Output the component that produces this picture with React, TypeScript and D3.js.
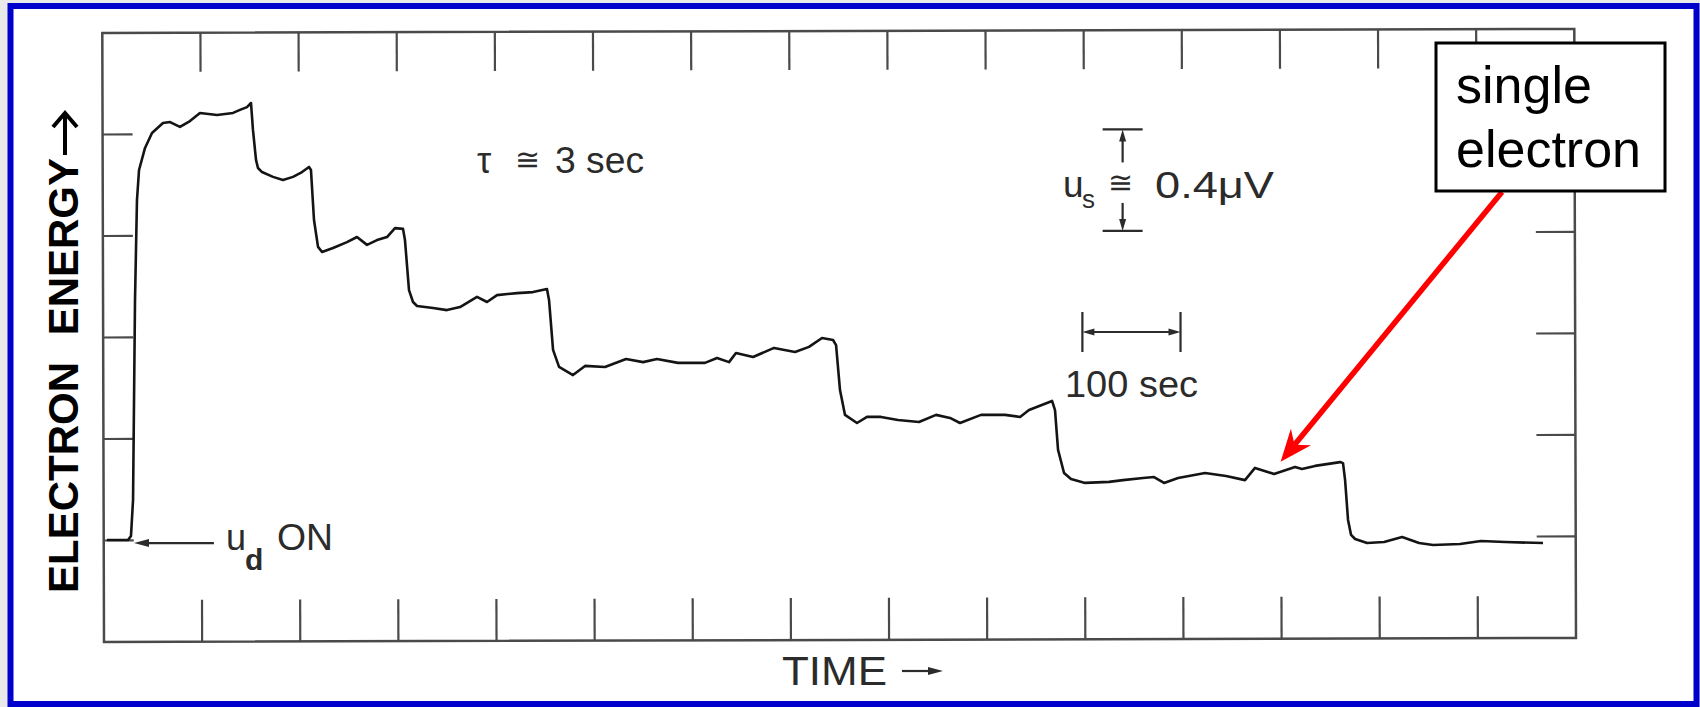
import React from 'react';
import * as d3 from 'd3';

const W = 1700;
const H = 707;

// trace: [time (s), electron energy (µV)]
const tracePoints: [number, number][] = [
  [3, 0.402], [24.5, 0.402], [27.5, 0.418], [29.6, 0.56], [31.6, 1.348], [33.6, 1.742],
  [35.7, 1.86], [41.8, 1.947], [48.9, 2.006], [60.1, 2.045], [67.3, 2.049], [77.4, 2.03],
  [87.6, 2.053], [97.8, 2.085], [115.2, 2.077], [131.5, 2.085], [138.6, 2.097], [145.7, 2.108],
  [149.8, 2.124], [151.8, 2.018], [154.9, 1.9], [156.9, 1.868], [161, 1.852], [172.2, 1.833],
  [182.4, 1.821], [192.6, 1.833], [201.8, 1.852], [208.9, 1.872], [210.9, 1.86], [214, 1.663],
  [218.1, 1.557], [222.2, 1.537], [233.4, 1.553], [247.6, 1.576], [257.8, 1.596], [268, 1.565],
  [278.2, 1.584], [288.4, 1.596], [296.5, 1.631], [304.7, 1.628], [306.7, 1.584], [310.8, 1.387],
  [314.9, 1.34], [319, 1.324], [335.3, 1.316], [349.5, 1.308], [362.8, 1.32], [380.1, 1.36],
  [390.3, 1.34], [400.5, 1.367], [420.9, 1.375], [437.2, 1.379], [451.4, 1.391], [453.5, 1.348],
  [457.6, 1.151], [463.7, 1.084], [477.9, 1.052], [490.2, 1.088], [510.5, 1.084], [532, 1.115],
  [549.3, 1.103], [563.5, 1.115], [584.9, 1.1], [612.4, 1.1], [624.7, 1.119], [636.9, 1.103],
  [644, 1.139], [661.4, 1.123], [682.8, 1.159], [704.2, 1.143], [718.4, 1.163], [731.7, 1.198],
  [742.9, 1.19], [746, 1.17], [750, 0.993], [755.1, 0.895], [767.3, 0.863], [777.5, 0.887],
  [791.8, 0.887], [809.1, 0.875], [830.5, 0.867], [847.9, 0.895], [862.1, 0.883], [872.3, 0.863],
  [893.7, 0.895], [918.2, 0.895], [933.5, 0.887], [942.6, 0.914], [966.1, 0.95], [969.1, 0.914],
  [972.2, 0.757], [978.3, 0.666], [985.4, 0.642], [999.7, 0.627], [1024.2, 0.631], [1038.4, 0.638],
  [1058.8, 0.646], [1070, 0.65], [1080.2, 0.627], [1094.5, 0.646], [1122, 0.666], [1143.4, 0.654],
  [1162.7, 0.638], [1172.9, 0.686], [1192.3, 0.662], [1213.7, 0.69], [1220.8, 0.682], [1234.1, 0.694],
  [1259.6, 0.709], [1262.6, 0.705], [1264.7, 0.638], [1267.7, 0.481], [1270.8, 0.422], [1274.9, 0.406],
  [1287.1, 0.39], [1304.4, 0.394], [1322.8, 0.414], [1340.1, 0.39], [1354.4, 0.382], [1381.8, 0.386],
  [1403.2, 0.398], [1427.7, 0.394], [1466.4, 0.39],
];

const timeTicks = [100, 200, 300, 400, 500, 600, 700, 800, 900, 1000, 1100, 1200, 1300, 1400];
const energyTicks = [0.4, 0.8, 1.2, 1.6, 2.0];

// scale markers drawn in the figure
const timeBar = [997, 1097]; // 100 sec
const energyBar = [1.62, 2.02]; // 0.4 µV
const energyBarTime = 1038;
const udOnArrow = [30.6, 112]; // time span of the "u_d ON" arrow
const udOnEnergy = 0.39;
const singleElectronTip: [number, number] = [1199, 0.71];

const scanInk = '#2b2b2b';
const scanFont = '"Liberation Sans", Arial, sans-serif';

const tri = (tx: number, ty: number, ux: number, uy: number, len: number, half: number) => {
  const bx = tx - ux * len;
  const by = ty - uy * len;
  return `M${tx},${ty}L${bx - uy * half},${by + ux * half}L${bx + uy * half},${by - ux * half}Z`;
};

const App = () => {
  const x = d3.scaleLinear().domain([0, 1500]).range([104, 1576]);
  const y = d3.scaleLinear().domain([0, 2.4]).range([642, 33]);

  const line = d3
    .line<[number, number]>()
    .x((d) => x(d[0]))
    .y((d) => y(d[1]));

  const [x0, x1] = x.range();
  const [yb, yt] = y.range();

  // red arrow from the label box to the trace
  const tail = [1502, 192];
  const tip = [x(singleElectronTip[0]), y(singleElectronTip[1])];
  const dx = tip[0] - tail[0];
  const dy = tip[1] - tail[1];
  const dl = Math.hypot(dx, dy);
  const ux = dx / dl;
  const uy = dy / dl;
  const headLen = 32;
  const headHalf = 13;
  const bx = tip[0] - ux * headLen;
  const by = tip[1] - uy * headLen;
  const notch = [tip[0] - ux * 22, tip[1] - uy * 22];
  const redHead = `M${tip[0]},${tip[1]}L${bx - uy * headHalf},${by + ux * headHalf}L${notch[0]},${notch[1]}L${bx + uy * headHalf},${by - ux * headHalf}Z`;

  const ebx = x(energyBarTime);
  const ebTop = y(energyBar[1]);
  const ebBot = y(energyBar[0]);
  const tbL = x(timeBar[0]);
  const tbR = x(timeBar[1]);
  const tbY = 332;

  return (
    <svg width={W} height={H} style={{ position: 'absolute', left: 0, top: 0, display: 'block' }}>
      <rect x={0} y={0} width={W} height={H} fill="#e9e9e9" />
      <rect x={10.5} y={6} width={1686} height={698} fill="#ffffff" stroke="#0000cc" strokeWidth={6} />

      {/* frame of the scanned plot, slightly tilted like the scan */}
      <g transform={`rotate(-0.16 ${x0} ${yb})`} stroke="#4a4a4a" fill="none">
        <rect x={x0} y={yt} width={x1 - x0} height={yb - yt} strokeWidth={2.5} />
        {timeTicks.map((t) => (
          <g key={`t${t}`} strokeWidth={2.2}>
            <line x1={x(t)} x2={x(t)} y1={yt} y2={yt + 39} />
            <line x1={x(t)} x2={x(t)} y1={yb} y2={yb - 42} />
          </g>
        ))}
        {energyTicks.map((e) => (
          <g key={`e${e}`} strokeWidth={2.2}>
            <line x1={x0} x2={x0 + 30} y1={y(e)} y2={y(e)} />
            <line x1={x1} x2={x1 - 39} y1={y(e)} y2={y(e)} />
          </g>
        ))}
      </g>

      <path d={line(tracePoints) || ''} fill="none" stroke="#141414" strokeWidth={2.6} strokeLinejoin="round" />

      {/* u_d ON */}
      <line x1={x(udOnArrow[0]) + 10} x2={x(udOnArrow[1])} y1={y(udOnEnergy)} y2={y(udOnEnergy)} stroke={scanInk} strokeWidth={2.2} />
      <path d={tri(x(udOnArrow[0]), y(udOnEnergy), -1, 0, 15, 4)} fill={scanInk} />
      <text x={226} y={550} fontFamily={scanFont} fontSize={36} fill={scanInk}>u</text>
      <text x={245} y={570} fontFamily={scanFont} fontSize={30} fontWeight="bold" fill={scanInk}>d</text>
      <text x={277} y={550} fontFamily={scanFont} fontSize={37} fill={scanInk} textLength={56} lengthAdjust="spacingAndGlyphs">ON</text>

      {/* tau */}
      <text x={477} y={173} fontFamily={scanFont} fontSize={36} fill={scanInk}>τ</text>
      <text x={515} y={170} fontFamily={scanFont} fontSize={30} fill={scanInk}>≅</text>
      <text x={555} y={173} fontFamily={scanFont} fontSize={37} fill={scanInk} textLength={89} lengthAdjust="spacingAndGlyphs">3 sec</text>

      {/* 0.4 µV marker */}
      <g stroke={scanInk} strokeWidth={2.2}>
        <line x1={ebx - 20} x2={ebx + 20} y1={ebTop} y2={ebTop} />
        <line x1={ebx} x2={ebx} y1={ebTop + 8} y2={ebTop + 33} />
        <line x1={ebx} x2={ebx} y1={ebBot - 28} y2={ebBot - 8} />
        <line x1={ebx - 20} x2={ebx + 20} y1={ebBot} y2={ebBot} />
      </g>
      <path d={tri(ebx, ebTop, 0, -1, 12, 3.5)} fill={scanInk} />
      <path d={tri(ebx, ebBot, 0, 1, 12, 3.5)} fill={scanInk} />
      <text x={1063} y={197} fontFamily={scanFont} fontSize={37} fill={scanInk}>u</text>
      <text x={1082} y={208} fontFamily={scanFont} fontSize={26} fill={scanInk}>s</text>
      <text x={1108} y={193} fontFamily={scanFont} fontSize={30} fill={scanInk}>≅</text>
      <text x={1155} y={198} fontFamily={scanFont} fontSize={37} fill={scanInk} textLength={119} lengthAdjust="spacingAndGlyphs">0.4μV</text>

      {/* 100 sec marker */}
      <g stroke={scanInk} strokeWidth={2.2}>
        <line x1={tbL} x2={tbL} y1={tbY - 20} y2={tbY + 20} />
        <line x1={tbR} x2={tbR} y1={tbY - 20} y2={tbY + 20} />
        <line x1={tbL + 8} x2={tbR - 8} y1={tbY} y2={tbY} />
      </g>
      <path d={tri(tbL, tbY, -1, 0, 12, 3.5)} fill={scanInk} />
      <path d={tri(tbR, tbY, 1, 0, 12, 3.5)} fill={scanInk} />
      <text x={1065} y={397} fontFamily={scanFont} fontSize={37} fill={scanInk} textLength={133} lengthAdjust="spacingAndGlyphs">100 sec</text>

      {/* TIME */}
      <text x={782} y={685} fontFamily={scanFont} fontSize={40} fill={scanInk} textLength={105} lengthAdjust="spacingAndGlyphs">TIME</text>
      <line x1={902} x2={930} y1={671} y2={671} stroke={scanInk} strokeWidth={2.2} />
      <path d={tri(943, 671, 1, 0, 15, 4)} fill={scanInk} />

      {/* y axis title with its arrow */}
      <text transform="translate(78,593) rotate(-90)" fontFamily='"Liberation Sans", Arial, sans-serif' fontSize={42} fontWeight="bold" fill="#000">
        {'ELECTRON '}
        <tspan dx={15}>ENERGY</tspan>
      </text>
      <path d="M65,155V114M53,127L65,113L77,127" fill="none" stroke="#000" strokeWidth={4} />

      {/* single electron callout */}
      <line x1={tail[0]} y1={tail[1]} x2={notch[0]} y2={notch[1]} stroke="#ff0000" strokeWidth={5.5} />
      <path d={redHead} fill="#ff0000" />
      <rect x={1436} y={43} width={229} height={148} fill="#ffffff" stroke="#000" strokeWidth={3} />
      <text x={1456} y={103} fontFamily='"Liberation Sans", Arial, sans-serif' fontSize={52} fill="#000">single</text>
      <text x={1456} y={167} fontFamily='"Liberation Sans", Arial, sans-serif' fontSize={52} fill="#000">electron</text>
    </svg>
  );
};

export default App;
